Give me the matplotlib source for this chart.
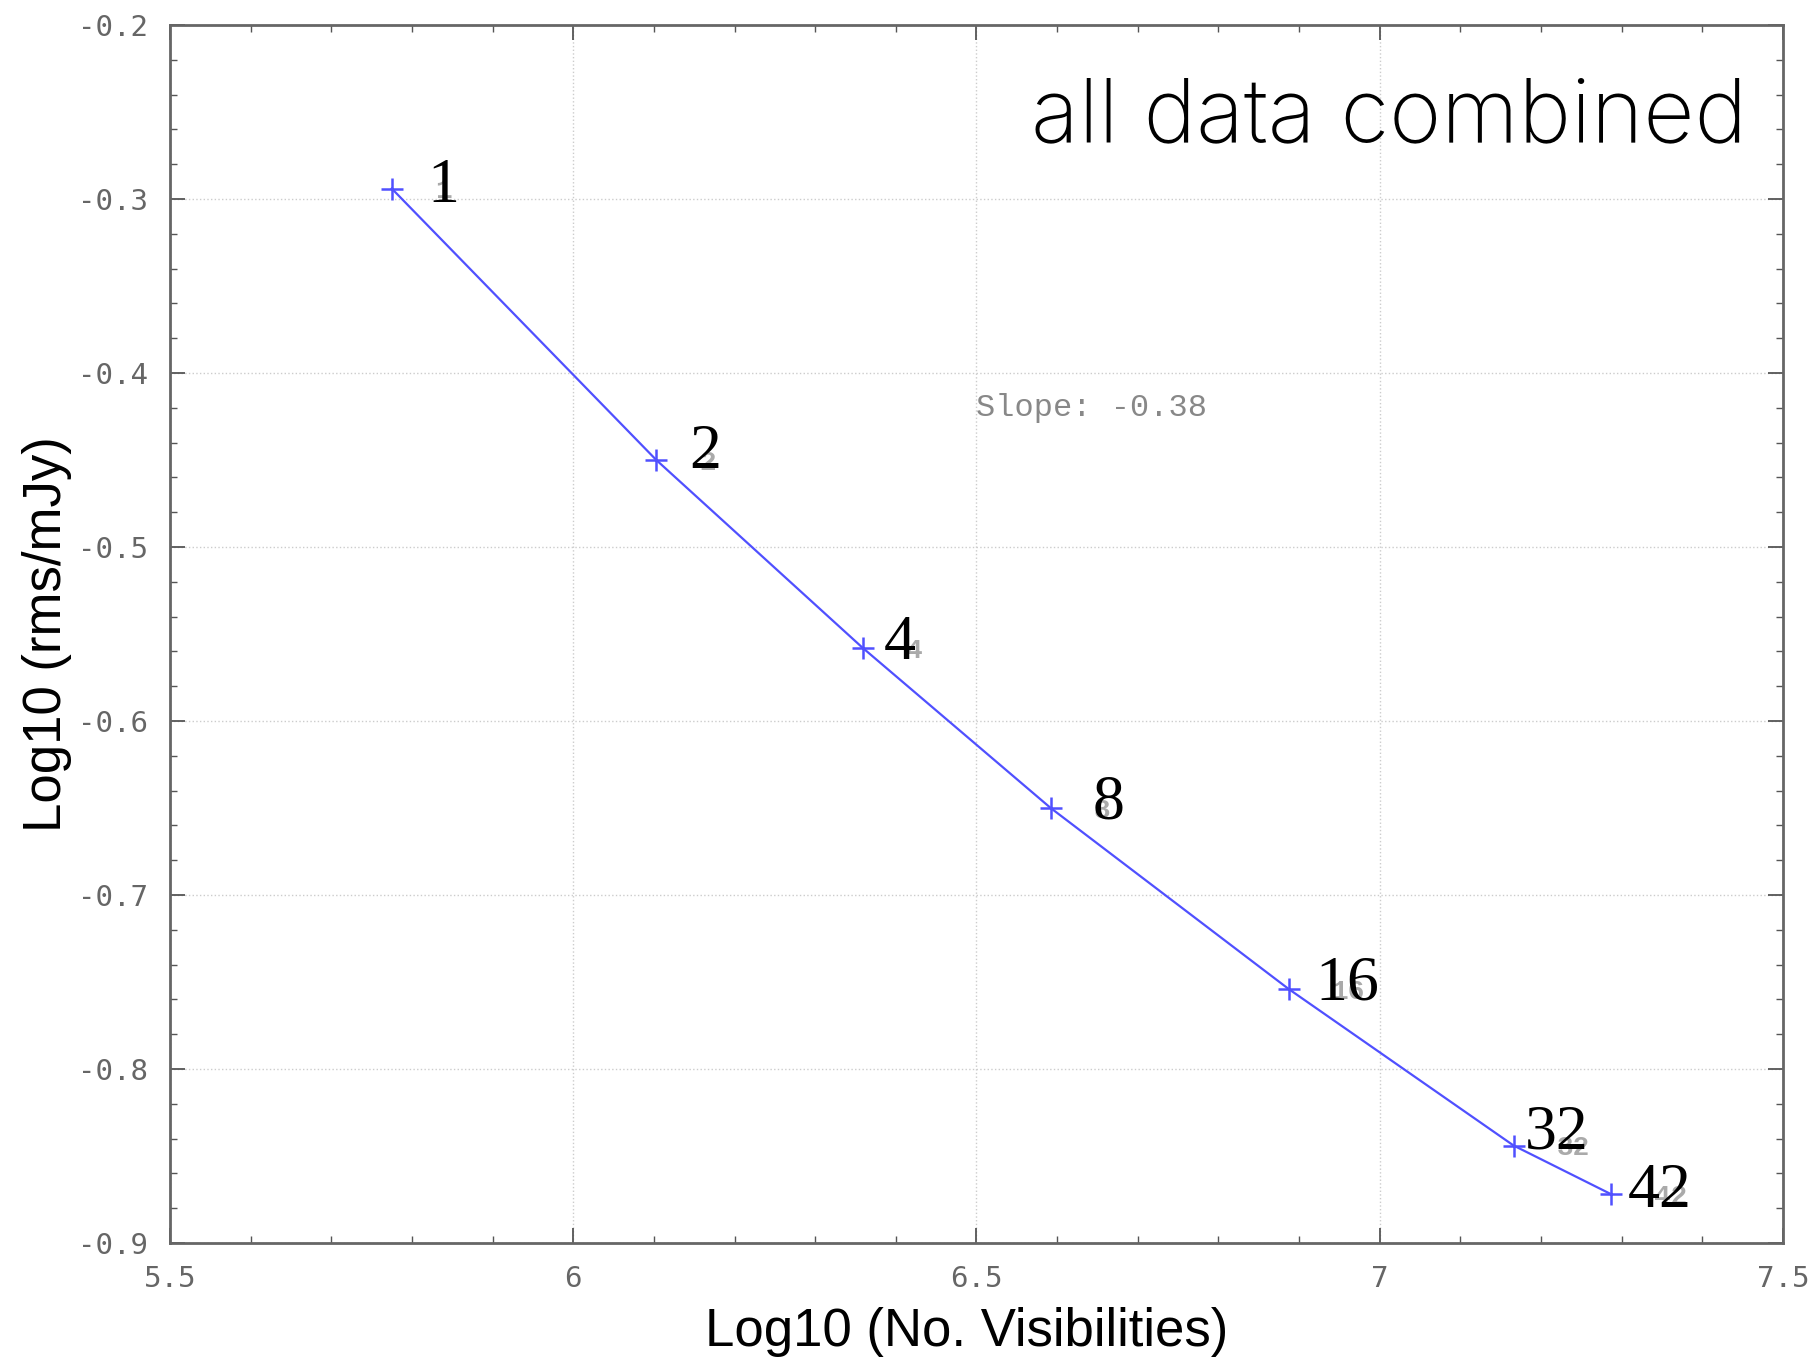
import matplotlib
matplotlib.use("Agg")
import matplotlib.pyplot as plt
from matplotlib.ticker import MultipleLocator, FormatStrFormatter

# ---- data ----
log_vis = [5.775, 6.103, 6.359, 6.592, 6.887, 7.166, 7.287]
log_rms = [-0.294, -0.450, -0.558, -0.650, -0.754, -0.844, -0.872]
labels = ["1", "2", "4", "8", "16", "32", "42"]
x_ticks = [5.5, 6, 6.5, 7, 7.5]
y_ticks = [-0.9, -0.8, -0.7, -0.6, -0.5, -0.4, -0.3, -0.2]
slope_text = "Slope: -0.38"
title_text = "all data combined"

# label offsets (points) for the large labels
big_offsets = [(26, -10), (24, -6), (15, -8), (30, -7.5), (19, -7.5), (8, -2), (12, -9)]

fig = plt.figure(figsize=(18.18, 13.59), dpi=100)
ax = fig.add_axes([0.0935, 0.0854, 0.8872, 0.8962])

ax.plot(log_vis, log_rms, color="#5050ff", lw=1.6, marker="+", ms=16, mew=1.8)

for x, y, lab in zip(log_vis, log_rms, labels):
    ax.annotate(lab, (x, y), xytext=(31, -2), textcoords="offset points",
                ha="left", va="center", fontsize=20, color="#aaaaaa",
                family="Liberation Mono", fontweight="bold")
for (x, y, lab), (dx, dy) in zip(zip(log_vis, log_rms, labels), big_offsets):
    ax.annotate(lab, (x, y), xytext=(dx, dy), textcoords="offset points",
                ha="left", va="baseline", fontsize=46, color="black",
                family="Liberation Serif")

ax.text(6.5, -0.42, slope_text, fontsize=23, color="#888888",
        family="Liberation Mono", ha="left", va="center")
ax.text(0.978, 0.905, title_text, transform=ax.transAxes, fontsize=64,
        family=["Inter", "Liberation Sans"], fontweight="light", ha="right",
        va="baseline", color="black")

ax.set_xlim(5.5, 7.5)
ax.set_ylim(-0.9, -0.2)
ax.set_xticks(x_ticks)
ax.set_yticks(y_ticks)
ax.xaxis.set_major_formatter(FormatStrFormatter("%g"))
ax.yaxis.set_major_formatter(FormatStrFormatter("%.1f"))
ax.xaxis.set_minor_locator(MultipleLocator(0.1))
ax.yaxis.set_minor_locator(MultipleLocator(0.02))
ax.tick_params(which="both", direction="in", top=True, right=True, color="#555555")
ax.tick_params(which="major", length=11, width=1.3, labelsize=21, labelcolor="#666666", pad=16)
ax.tick_params(which="minor", length=5, width=1.0)
for lab in ax.get_xticklabels() + ax.get_yticklabels():
    lab.set_family("DejaVu Sans Mono")
for s in ax.spines.values():
    s.set_color("#666666")
    s.set_linewidth(2)
ax.grid(True, which="major", color="#cccccc", ls=":", lw=1)

ax.set_xlabel("Log10 (No. Visibilities)", fontsize=38, family="Liberation Sans", labelpad=10)
ax.set_ylabel("Log10 (rms/mJy)", fontsize=38, family="Liberation Sans", labelpad=4)
ax.xaxis.set_label_coords(0.494, -0.053, transform=ax.transAxes)
ax.xaxis.label.set_va("top")

fig.savefig("out.png", dpi=100)
